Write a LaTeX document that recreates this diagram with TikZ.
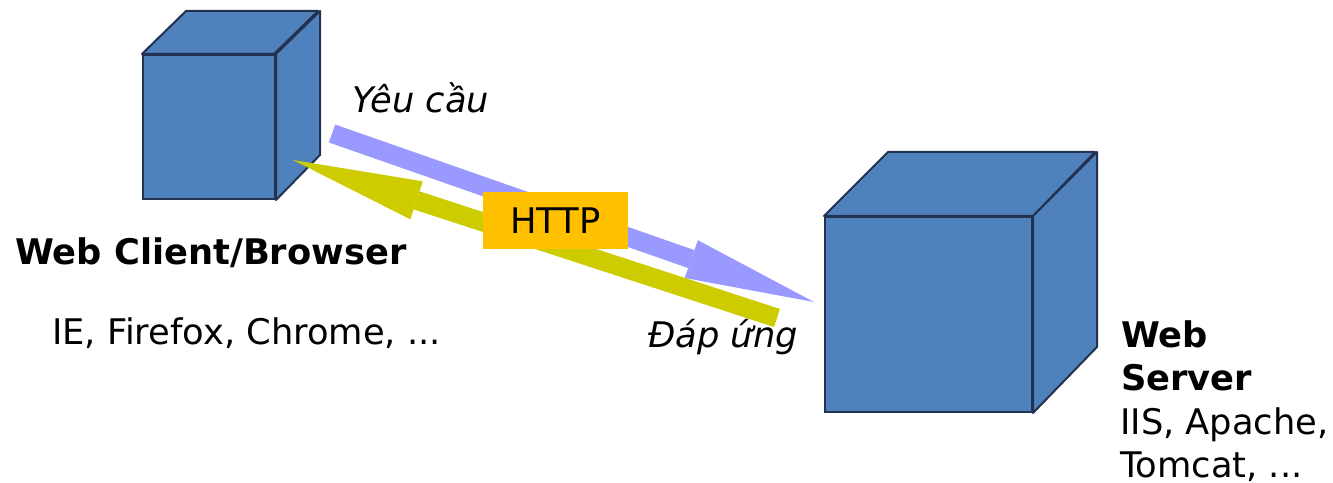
\documentclass[tikz,border=0pt]{standalone}
\usepackage{fontspec}
\setmainfont{DejaVu Sans}
\usetikzlibrary{arrows.meta}

\definecolor{cubefill}{HTML}{4F81BD}
\definecolor{cubeedge}{HTML}{233250}
\definecolor{reqcol}{HTML}{9999FF}
\definecolor{respcol}{HTML}{CCCC00}
\definecolor{httpcol}{HTML}{FFC000}

\tikzset{
  cubeface/.style={draw=cubeedge, fill=cubefill, line width=2bp, inner sep=0pt},
  cubeside/.style={draw=cubeedge, fill=cubefill, line width=2bp, line join=round},
  flow/.style={line width=19bp, -{Triangle[width=40bp,length=130bp,line width=0pt]}},
  lbl/.style={inner sep=0pt, anchor=base west, font=\fontsize{35.4}{42}\selectfont},
  boldlbl/.style={lbl, font=\fontsize{35.4}{42}\selectfont\bfseries},
  itlbl/.style={inner sep=0pt, anchor=base, font=\fontsize{35.4}{42}\selectfont\itshape},
  httpbox/.style={fill=httpcol, minimum width=145bp, minimum height=57bp, inner sep=0pt,
    font=\fontsize{35.4}{42}\selectfont}
}

\begin{document}
\begin{tikzpicture}[x=1bp, y=-1bp]
  \useasboundingbox (0,0) rectangle (1333,483);

  % client cube: front face, then top and right faces from its corners
  \node[cubeface, minimum width=132bp, minimum height=144bp] (client) at (209,127) {};
  \filldraw[cubeside] (client.north west) -- ++(44,-43) -- ++(132,0)
    -- ++(-44,43) -- cycle;
  \filldraw[cubeside] (client.north east) -- ++(44,-43) -- ++(0,144)
    -- (client.south east) -- cycle;

  % server cube
  \node[cubeface, minimum width=207bp, minimum height=195bp] (server) at (928.5,314.5) {};
  \filldraw[cubeside] (server.north west) -- ++(64,-64) -- ++(207,0)
    -- (server.north east) -- cycle;
  \filldraw[cubeside] (server.north east) -- ++(64,-64) -- ++(0,195)
    -- (server.south east) -- cycle;

  % request and response flows
  \coordinate (reqA) at (332,133.5);
  \coordinate (reqB) at (814,302);
  \coordinate (respA) at (777,318);
  \coordinate (respB) at (293,160);
  \draw[flow, draw=reqcol, fill=reqcol] (reqA) -- (reqB);
  \draw[flow, draw=respcol, fill=respcol] (respA) -- (respB);

  \node[httpbox] (http) at (555.5,220.5) {HTTP};

  % labels
  \node[itlbl] (req) at (421,113) {Yêu cầu};
  \node[itlbl] (resp) at (723,347) {Đáp ứng};

  \node[boldlbl] (clientname) at (15,265) {Web Client/Browser};
  \node[lbl] (clientlist) at (52,344) {IE, Firefox, Chrome, ...};

  \node[boldlbl] (servername1) at (1121,347) {Web};
  \node[boldlbl] (servername2) at (1121,390) {Server};
  \node[lbl] (serverlist1) at (1120,434) {IIS, Apache,};
  \node[lbl] (serverlist2) at (1120,477) {Tomcat, ...};
\end{tikzpicture}
\end{document}
